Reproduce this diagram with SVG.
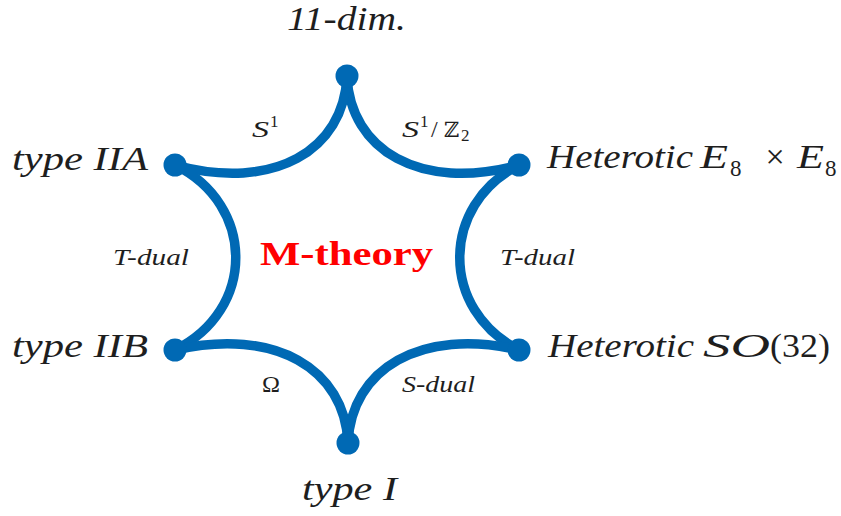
<svg xmlns="http://www.w3.org/2000/svg" width="841" height="516" viewBox="0 0 841 516">
<style>
.edge{fill:none;stroke:#0069b4;stroke-width:9.5;stroke-linecap:round}
.dot{fill:#0069b4}
.lab{font-family:"Liberation Serif",serif;font-style:italic;fill:#1e1e1e}
.big{font-size:34px}
.sm{font-size:24px}
.up{font-style:normal}
.mt{font-family:"Liberation Serif",serif;font-weight:bold;font-size:34px;fill:#ff0000}
</style>
<rect width="841" height="516" fill="#ffffff"/>
<g id="connectors">
<path class="edge" d="M347,76 C350,150 420,192 519,165"/>
<path class="edge" d="M347,76 C344,150 274,192 175,165"/>
<path class="edge" d="M175,165 C256,205 256,310 175,350"/>
<path class="edge" d="M519,165 C440,205 440,310 519,350"/>
<path class="edge" d="M348,443 C345,369 275,327 175,350"/>
<path class="edge" d="M348,443 C351,369 421,327 519,350"/>
</g>
<g id="n-11dim">
<circle class="dot" cx="347" cy="76" r="11.5"/>
<text class="lab big" x="287" y="30" textLength="119" lengthAdjust="spacingAndGlyphs">11-dim.</text>
</g>
<g id="n-IIA">
<circle class="dot" cx="175" cy="165" r="11.5"/>
<text class="lab big" x="12" y="170" textLength="136" lengthAdjust="spacingAndGlyphs">type IIA</text>
</g>
<g id="n-E8">
<circle class="dot" cx="519" cy="165" r="11.5"/>
<text class="lab big" x="547" y="168" textLength="146" lengthAdjust="spacingAndGlyphs">Heterotic</text>
<text class="lab big" x="700" y="168" textLength="28" lengthAdjust="spacingAndGlyphs">E</text>
<text class="lab up" x="730" y="176" font-size="23">8</text>
<text class="lab up big" x="775" y="168" text-anchor="middle">×</text>
<text class="lab big" x="797" y="168" textLength="27" lengthAdjust="spacingAndGlyphs">E</text>
<text class="lab up" x="825" y="176" font-size="23">8</text>
</g>
<g id="n-IIB">
<circle class="dot" cx="175" cy="350" r="11.5"/>
<text class="lab big" x="12" y="357" textLength="136" lengthAdjust="spacingAndGlyphs">type IIB</text>
</g>
<g id="n-SO32">
<circle class="dot" cx="519" cy="350" r="11.5"/>
<text class="lab big" x="548" y="357" textLength="146" lengthAdjust="spacingAndGlyphs">Heterotic</text>
<text class="lab big" x="703" y="357" textLength="67" lengthAdjust="spacingAndGlyphs">SO</text>
<text class="lab up big" x="770" y="357" textLength="60" lengthAdjust="spacingAndGlyphs">(32)</text>
</g>
<g id="n-I">
<circle class="dot" cx="348" cy="443" r="11.5"/>
<text class="lab big" x="302" y="500" textLength="95" lengthAdjust="spacingAndGlyphs">type I</text>
</g>
<g id="labels">
<text class="lab sm" x="252" y="137" textLength="17" lengthAdjust="spacingAndGlyphs">S</text>
<text class="lab up" x="270" y="127" font-size="17">1</text>
<text class="lab sm" x="402" y="137" textLength="17" lengthAdjust="spacingAndGlyphs">S</text>
<text class="lab up" x="420" y="127" font-size="17">1</text>
<text class="lab up sm" x="431" y="137">/</text>
<text x="444" y="137" font-family="DejaVu Serif,serif" font-size="21" fill="#1e1e1e">ℤ</text>
<text class="lab up" x="461" y="141" font-size="17">2</text>
<text class="lab sm" x="113" y="265" textLength="76" lengthAdjust="spacingAndGlyphs">T-dual</text>
<text class="lab sm" x="500" y="265" textLength="75" lengthAdjust="spacingAndGlyphs">T-dual</text>
<text class="mt" x="260" y="265" textLength="173" lengthAdjust="spacingAndGlyphs">M-theory</text>
<text class="lab up sm" x="262" y="392" textLength="18" lengthAdjust="spacingAndGlyphs">Ω</text>
<text class="lab sm" x="402" y="392" textLength="73" lengthAdjust="spacingAndGlyphs">S-dual</text>
</g>
</svg>
